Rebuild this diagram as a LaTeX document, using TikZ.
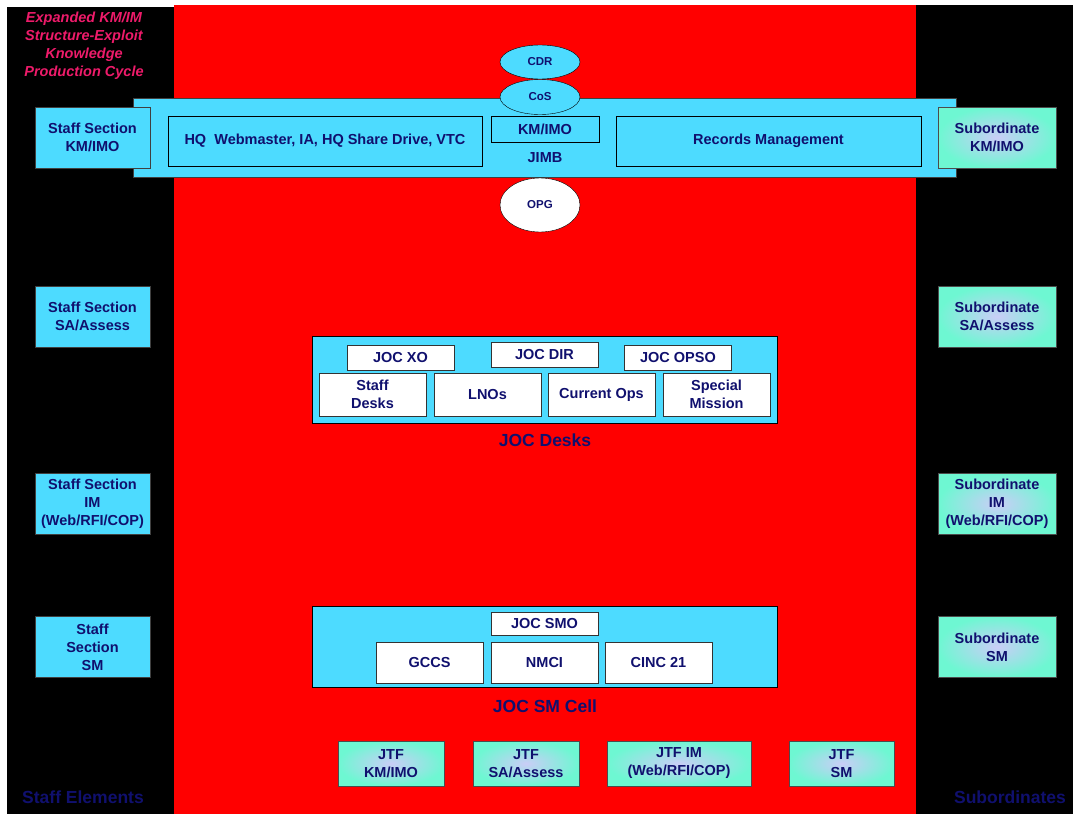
\documentclass[tikz,border=0pt]{standalone}
\usepackage{fontspec}
\setmainfont{Liberation Sans}
\usepackage{tikz}
\usetikzlibrary{shapes.geometric}
\definecolor{Navy}{HTML}{10106E}
\definecolor{Cyan}{HTML}{4DDBFF}
\definecolor{Aqua}{HTML}{6EF7D2}
\definecolor{Lav}{HTML}{CACDF7}
\definecolor{Pink}{HTML}{EE1B6A}
\definecolor{BRed}{HTML}{FF0000}
\newcommand{\boxfont}{\fontsize{14.5}{18}\selectfont\bfseries}

\begin{document}
\begin{tikzpicture}[x=1pt, y=-1pt,
  every node/.style={text=Navy, font=\boxfont, align=center, inner sep=0pt},
  cyanbox/.style={draw=black!75, fill=Cyan, minimum width=115, minimum height=61},
  subbox/.style={draw=black!70, inner color=Lav, outer color=Aqua, minimum width=118, minimum height=61},
  jtfbox/.style={subbox, minimum width=106, minimum height=45},
  panel/.style={draw=black, fill=Cyan, minimum width=465},
  inbox/.style={draw=black!80, fill=white, minimum width=107},
  oval/.style={ellipse, draw=black, fill=Cyan, minimum width=80, font=\fontsize{11.5}{13}\selectfont\bfseries},
  biglabel/.style={font=\fontsize{17.5}{20}\selectfont\bfseries}]
  \useasboundingbox (0,0) rectangle (1073,814);
  % background panels
  \fill[black] (7,7) rectangle (174,814);
  \fill[BRed] (174,5) rectangle (916,814);
  \fill[black] (916,5) rectangle (1073,814);
  \node[text=Pink, font=\fontsize{14.5}{18}\selectfont\bfseries\itshape] (title) at (84,46)
    {Expanded KM/IM\\Structure-Exploit\\Knowledge\\Production Cycle};

  % JIMB bar
  \node[draw=black!75, fill=Cyan, minimum width=823, minimum height=79] (jimb) at (544.5,137.5) {};
  \node[draw=black, fill=Cyan, minimum width=314, minimum height=50] (hq) at (325,141)
    {HQ\ \ Webmaster, IA, HQ Share Drive, VTC};
  \node[draw=black, fill=Cyan, minimum width=108, minimum height=26] (kmimo) at (545,129) {KM/IMO};
  \node (jimblabel) at (545,158) {JIMB};
  \node[draw=black, fill=Cyan, minimum width=305, minimum height=50] (records) at (768.5,141)
    {Records Management};
  \node[oval, minimum height=35] (cos) at (540,97) {CoS};
  \node[oval, minimum height=34] (cdr) at (540,62) {CDR};
  \node[oval, fill=white, minimum height=54] (opg) at (540,205) {OPG};

  % staff sections
  \node[cyanbox] (staffkm) at (92.5,137.5) {Staff Section\\KM/IMO};
  \node[cyanbox] (staffsa) at (92.5,316.5) {Staff Section\\SA/Assess};
  \node[cyanbox] (staffim) at (92.5,504) {Staff Section\\IM\\(Web/RFI/COP)};
  \node[cyanbox] (staffsm) at (92.5,647) {Staff\\Section\\SM};

  % subordinates
  \node[subbox] (subkm) at (997,137.5) {Subordinate\\KM/IMO};
  \node[subbox] (subsa) at (997,316.5) {Subordinate\\SA/Assess};
  \node[subbox] (subim) at (997,504) {Subordinate\\IM\\(Web/RFI/COP)};
  \node[subbox] (subsm) at (997,647) {Subordinate\\SM};

  % JOC desks
  \node[panel, minimum height=87] (desks) at (544.5,379.5) {};
  \node[inbox, minimum height=25] (xo) at (400.5,357.5) {JOC XO};
  \node[inbox, minimum height=25] (dir) at (544.5,354.5) {JOC DIR};
  \node[inbox, minimum height=25] (opso) at (678,357.5) {JOC OPSO};
  \node[inbox, minimum height=43] (staffdesks) at (372.5,394.5) {Staff\\Desks};
  \node[inbox, minimum height=43] (lnos) at (487.5,394.5) {LNOs};
  \node[inbox, minimum height=43] (curops) at (601.5,394.5) {Current Ops};
  \node[inbox, minimum height=43] (special) at (716.5,394.5) {Special\\Mission};
  \node[biglabel] (deskslabel) at (545,440) {JOC Desks};

  % JOC SM cell
  \node[panel, minimum height=81] (smcell) at (544.5,646.5) {};
  \node[inbox, minimum height=23] (smo) at (544.5,623.5) {JOC SMO};
  \node[inbox, minimum height=41] (gccs) at (429.5,662.5) {GCCS};
  \node[inbox, minimum height=41] (nmci) at (544.5,662.5) {NMCI};
  \node[inbox, minimum height=41] (cinc) at (658.5,662.5) {CINC 21};
  \node[biglabel] (smlabel) at (545,706) {JOC SM Cell};

  % JTF row
  \node[jtfbox] (jtfkm) at (391,763.5) {JTF\\KM/IMO};
  \node[jtfbox] (jtfsa) at (526,763.5) {JTF\\SA/Assess};
  \node[jtfbox, minimum width=144] (jtfim) at (679,763.5) {JTF IM\\(Web/RFI/COP)};
  \node[jtfbox, minimum width=105] (jtfsm) at (841.5,763.5) {JTF\\SM};

  \node[biglabel] (staffel) at (83,797) {Staff Elements};
  \node[biglabel] (subs) at (1010,797) {Subordinates};
\end{tikzpicture}
\end{document}
